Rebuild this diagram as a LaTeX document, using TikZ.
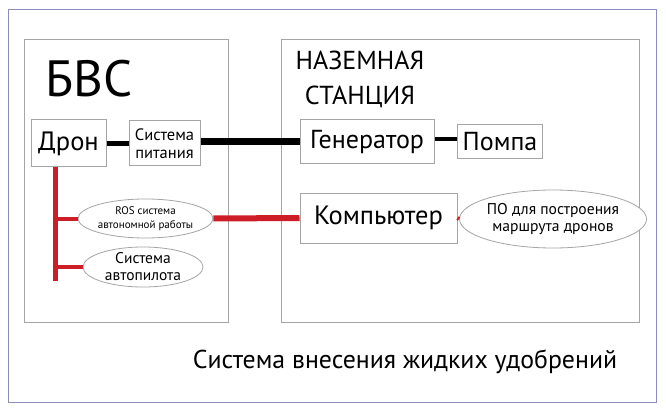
\documentclass[tikz,border=0pt]{standalone}
\usepackage{fontspec}
\setmainfont{PT Sans}
\usetikzlibrary{shapes.geometric}
\definecolor{frameblue}{RGB}{140,140,190}
\definecolor{boxgray}{RGB}{165,165,165}
\definecolor{linkred}{RGB}{205,30,40}
\tikzset{
  box/.style={draw=boxgray, line width=1pt, fill=white, inner sep=0pt, align=center},
  oval/.style={ellipse, draw=boxgray, line width=0.8pt, fill=white, inner sep=0pt, align=center},
  blk/.style={line width=#1, black},
  rd/.style={line width=#1, linkred},
}
\begin{document}
\begin{tikzpicture}[x=1pt,y=-1pt]
\useasboundingbox (0,0) rectangle (666,414);
\fill[white] (0,0) rectangle (666,414);
\draw[frameblue, line width=1pt] (8.5,10) rectangle (656,402);
\node[draw=boxgray, line width=1pt, minimum width=204.5pt, minimum height=283pt, inner sep=0pt] (bvs) at (126.5,181) {};
\node[draw=boxgray, line width=1pt, minimum width=358pt, minimum height=283pt, inner sep=0pt] (gs) at (460.5,181) {};
\node[font=\fontsize{51}{51}\selectfont, inner sep=0pt] (bvst) at (89,79) {БВС};
\node[font=\fontsize{26}{35}\selectfont, inner sep=0pt, align=center] (gst) at (360,79) {НАЗЕМНАЯ\\СТАНЦИЯ};

\node[box, minimum width=75pt, minimum height=47pt, font=\fontsize{26.5}{26}\selectfont] (dron) at (68.5,143.5) {Дрон};
\node[box, minimum width=71pt, minimum height=45pt, font=\fontsize{16.5}{18}\selectfont] (sp) at (164.5,143.5) {Система\\питания};
\node[box, minimum width=134pt, minimum height=44pt, font=\fontsize{26}{26}\selectfont] (gen) at (367,142) {Генератор};
\node[box, minimum width=84.5pt, minimum height=34pt, font=\fontsize{26}{26}\selectfont] (pump) at (500,142) {Помпа};
\node[box, minimum width=157pt, minimum height=50pt, font=\fontsize{26.5}{26}\selectfont] (comp) at (378.5,218) {Компьютер};
\node[oval, minimum width=157pt, minimum height=58pt, font=\fontsize{15.6}{17}\selectfont] (po) at (553,219) {ПО для построения\\маршрута дронов};
\node[oval, minimum width=125pt, minimum height=39pt, font=\fontsize{11}{14}\selectfont] (ros) at (145.5,218.5) {ROS система\\автономной работы};
\node[oval, minimum width=120pt, minimum height=40pt, font=\fontsize{15.5}{17}\selectfont] (ap) at (143,267) {Система\\автопилота};

\node[font=\fontsize{25.8}{26}\selectfont, inner sep=0pt] (title) at (405,362) {Система внесения жидких удобрений};

\draw[blk=5pt] (dron.east) -- (sp.west);
\draw[blk=7pt] (sp.east |- 0,142) -- (gen.west);
\draw[blk=4pt] (gen.east |- 0,139) -- (pump.west |- 0,139);

\coordinate (vtop) at (55,167.5);
\coordinate (vbot) at (55,281);
\draw[rd=5pt] (vtop) -- (vbot);
\draw[rd=4pt] (vtop |- ros.west) -- (ros.west);
\draw[rd=4pt] (vtop |- ap.west) -- (ap.west);
\draw[rd=6pt] (ros.east) -- (comp.west);
\draw[rd=4pt] (comp.east) -- (po.west);
\end{tikzpicture}
\end{document}
